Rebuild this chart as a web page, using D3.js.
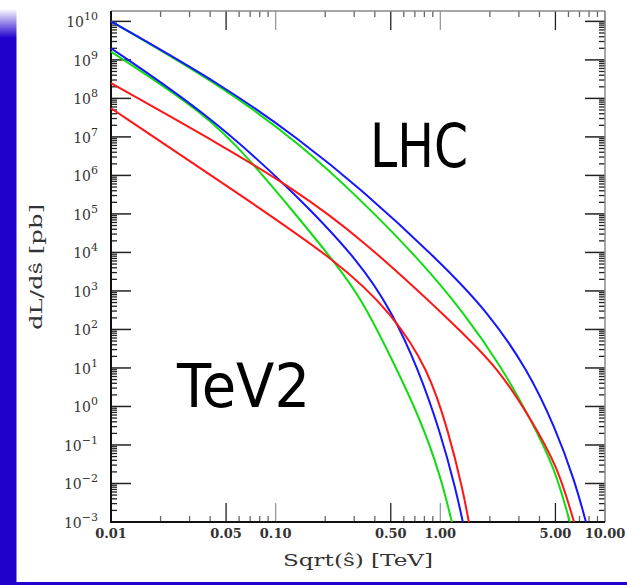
<!DOCTYPE html>
<meta charset="utf-8">
<script src="https://d3js.org/d3.v7.min.js"></script>
<style>
  * { margin: 0; padding: 0; }
  body { background: #fff; }
  .tick-label { font-family: "DejaVu Serif", serif; font-size: 14px; fill: #333; }
  .axis-title { font-family: "DejaVu Serif", serif; font-size: 16px; fill: #333; }
  .big { font-family: "DejaVu Sans", sans-serif; font-size: 60px; fill: #000; }
</style>
<body>
<div id="chart"></div>
<script>
// sqrt(s) in TeV, dL/ds in pb
var lhcBlueX  = [0.01, 0.0492, 0.1404, 0.325, 1.0, 1.945, 3.40, 4.96, 6.56, 7.66];
var lhcBlueY  = [1.0e10, 2.05e8, 8.36e6, 4.73e5, 5.66e3, 285, 8.87, 0.294, 0.0116, 0.001];
var lhcGreenX = [0.01, 0.0492, 0.1404, 0.325, 0.731, 1.41, 2.37, 3.50, 4.96, 6.12];
var lhcGreenY = [1.0e10, 1.87e8, 6.58e6, 2.45e5, 7.2e3, 253, 10, 0.502, 0.0253, 0.001];
var lhcRedX   = [0.01, 0.05, 0.1256, 0.325, 1.227, 2.24, 3.50, 5.18, 6.48];
var lhcRedY   = [2.48e8, 5.18e6, 4.73e5, 2.53e4, 131, 10, 0.52, 0.0269, 0.001];

var tev2BlueX  = [0.01, 0.0372, 0.1256, 0.325, 0.508, 0.731, 1.0, 1.244, 1.37];
var tev2BlueY  = [2.01e9, 4.46e7, 4.2e5, 5.66e3, 285, 10, 0.218, 0.00678, 0.001];
var tev2GreenX = [0.01, 0.0372, 0.0698, 0.1256, 0.2356, 0.334, 0.494, 0.752, 1.0, 1.175];
var tev2GreenY = [1.64e9, 4.2e7, 2.53e6, 1.27e5, 4.73e3, 583, 21.8, 0.502, 0.0166, 0.001];
var tev2RedX   = [0.01, 0.05, 0.2527, 0.508, 0.841, 1.127, 1.37, 1.49];
var tev2RedY   = [5.56e7, 5.5e5, 5.03e3, 253, 10, 0.205, 0.00678, 0.001];

var xTickValues = [0.01, 0.05, 0.1, 0.5, 1, 5, 10];
var xTickLabels = ["0.01", "0.05", "0.10", "0.50", "1.00", "5.00", "10.00"];
var yExponents  = [10, 9, 8, 7, 6, 5, 4, 3, 2, 1, 0, -1, -2, -3];

var W = 627, H = 585;
var svg = d3.select("#chart").append("svg")
  .attr("width", W).attr("height", H);

// blue slide decoration
var defs = svg.append("defs");
var grad = defs.append("linearGradient").attr("id", "barGrad")
  .attr("gradientUnits", "userSpaceOnUse")
  .attr("x1", 0).attr("y1", 0).attr("x2", 0).attr("y2", 40);
grad.append("stop").attr("offset", "0.22").attr("stop-color", "#ffffff");
grad.append("stop").attr("offset", "0.95").attr("stop-color", "#2000cc");
svg.append("rect").attr("x", 0).attr("y", 0).attr("width", 16.5).attr("height", H)
  .attr("fill", "url(#barGrad)");
svg.append("rect").attr("x", 0).attr("y", 582).attr("width", W).attr("height", 3)
  .attr("fill", "#2000cc");

var x = d3.scaleLog().domain([0.01, 10]).range([111, 605]);
var y = d3.scaleLog().domain([1e-3, 1.86e10]).range([522, 11]);

var x0 = 111, x1 = 605, y0 = 522, y1 = 11;

// x ticks (bottom and top)
var xt = [];
[-2, -1, 0].forEach(function(p) {
  for (var k = 1; k <= 9; k++) xt.push({ v: k * Math.pow(10, p), k: k });
});
xt.push({ v: 10, k: 1 });
xt.forEach(function(t) {
  var px = x(t.v);
  var len = (t.k == 1 || t.k == 5) ? 19 : 6;
  var col = t.k == 5 ? "#222" : (t.k == 1 ? "#999" : "#666");
  svg.append("line").attr("x1", px).attr("x2", px).attr("y1", y0).attr("y2", y0 - len)
    .attr("stroke", col).attr("stroke-width", 1.3);
  svg.append("line").attr("x1", px).attr("x2", px).attr("y1", y1).attr("y2", y1 + len)
    .attr("stroke", col).attr("stroke-width", 1.3);
});

// y ticks (left and right)
yExponents.forEach(function(e) {
  for (var k = 1; k <= 9; k++) {
    var v = k * Math.pow(10, e);
    if (v > y.domain()[1]) continue;
    var py = y(v);
    var len = k == 1 ? 20 : 6;
    var sw = k == 1 ? 1.5 : 1.3;
    svg.append("line").attr("x1", x0).attr("x2", x0 + len).attr("y1", py).attr("y2", py)
      .attr("stroke", "#222").attr("stroke-width", sw);
    svg.append("line").attr("x1", x1).attr("x2", x1 - len).attr("y1", py).attr("y2", py)
      .attr("stroke", "#222").attr("stroke-width", sw);
  }
});

// frame
svg.append("line").attr("x1", x0).attr("x2", x1).attr("y1", y1).attr("y2", y1)
  .attr("stroke", "#888").attr("stroke-width", 1.5);
svg.append("line").attr("x1", x1).attr("x2", x1).attr("y1", y1).attr("y2", y0)
  .attr("stroke", "#888").attr("stroke-width", 1.5);
svg.append("line").attr("x1", x0).attr("x2", x0).attr("y1", y1).attr("y2", y0 + 1)
  .attr("stroke", "#111").attr("stroke-width", 2);
svg.append("line").attr("x1", x0 - 1).attr("x2", x1).attr("y1", y0).attr("y2", y0)
  .attr("stroke", "#111").attr("stroke-width", 2);

// tick labels
svg.selectAll(".xlab").data(xTickValues).enter().append("text")
  .attr("class", "tick-label")
  .attr("x", function(d) { return x(d); })
  .attr("y", 538)
  .attr("text-anchor", "middle")
  .style("font-size", "13px")
  .style("font-weight", "bold")
  .text(function(d, i) { return xTickLabels[i]; });

var ylab = svg.selectAll(".ylab").data(yExponents).enter().append("text")
  .attr("class", "tick-label")
  .attr("x", 98)
  .attr("y", function(d) { return y(Math.pow(10, d)) + 6; })
  .attr("text-anchor", "end");
ylab.append("tspan").text("10");
ylab.append("tspan").attr("dy", -7).style("font-size", "11px")
  .text(function(d) { return d < 0 ? "\u2212" + (-d) : d; });

// axis titles
svg.append("text").attr("class", "axis-title")
  .attr("x", 283).attr("y", 566)
  .attr("textLength", 150).attr("lengthAdjust", "spacingAndGlyphs")
  .text("Sqrt(\u015d)  [TeV]");
svg.append("text").attr("class", "axis-title")
  .attr("transform", "translate(42,330) rotate(-90)")
  .attr("textLength", 126).attr("lengthAdjust", "spacingAndGlyphs")
  .text("dL/d\u015d  [pb]");

// curves
var line = d3.line()
  .x(function(d) { return x(d[0]); })
  .y(function(d) { return y(d[1]); })
  .curve(d3.curveBasis);

var curves = [
  { xs: tev2GreenX, ys: tev2GreenY, c: "#10dd10" },
  { xs: tev2BlueX,  ys: tev2BlueY,  c: "#1515ff" },
  { xs: tev2RedX,   ys: tev2RedY,   c: "#ff1515" },
  { xs: lhcGreenX,  ys: lhcGreenY,  c: "#10dd10" },
  { xs: lhcRedX,    ys: lhcRedY,    c: "#ff1515" },
  { xs: lhcBlueX,   ys: lhcBlueY,   c: "#1515ff" }
];
curves.forEach(function(cv) {
  var pts = cv.xs.map(function(v, i) { return [v, cv.ys[i]]; });
  svg.append("path").datum(pts)
    .attr("d", line)
    .attr("fill", "none")
    .attr("stroke", cv.c)
    .attr("stroke-width", 2);
});

// labels
svg.append("text").attr("class", "big")
  .attr("x", 370).attr("y", 167)
  .attr("textLength", 98).attr("lengthAdjust", "spacingAndGlyphs")
  .text("LHC");
svg.append("text").attr("class", "big")
  .attr("x", 177).attr("y", 407)
  .attr("textLength", 133).attr("lengthAdjust", "spacingAndGlyphs")
  .text("TeV2");
</script>
</body>
